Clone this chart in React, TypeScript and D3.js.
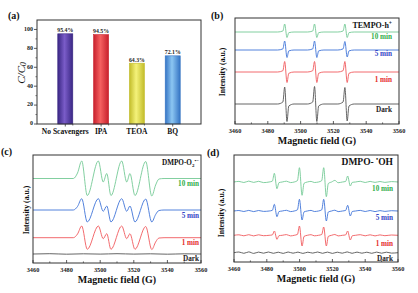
import React from 'react';
import * as d3 from 'd3';

type Pt = [number, number];

const FONT = "'Liberation Serif', 'Times New Roman', serif";

// ---------- panel (a) data ----------
const scavengers = ['No Scavengers', 'IPA', 'TEOA', 'BQ'];
const ratios = [95.4, 94.5, 64.3, 72.1];
const ratioLabels = ['95.4%', '94.5%', '64.3%', '72.1%'];
const ratioTicks = [0, 20, 40, 60, 80, 100];

// ---------- shared field axis ----------
const fieldTicks = [3460, 3480, 3500, 3520, 3540, 3560];
const fieldMinor = [3470, 3490, 3510, 3530, 3550];

// ---------- panel (b) TEMPO-h+ ----------
const bDark: Pt[] = [[3460,20],[3486,20],[3489.2,22],[3490.3,37],[3491.7,2.5],[3492.8,18],[3496,20],[3504.2,20],[3507.4,22],[3508.5,37.5],[3509.9,2.5],[3511,18],[3514.2,20],[3522.7,20],[3525.9,22],[3527,36.5],[3528.4,3],[3529.5,18],[3532.7,20],[3560,20]];
const bRed: Pt[] = [[3460,52],[3486,52],[3489.2,53.3],[3490.3,62.5],[3491.7,41.5],[3492.8,50.7],[3496,52],[3504.2,52],[3507.4,53.3],[3508.5,62.5],[3509.9,41.5],[3511,50.7],[3514.2,52],[3522.7,52],[3525.9,53.3],[3527,62.5],[3528.4,41.5],[3529.5,50.7],[3532.7,52],[3560,52]];
const bBlue: Pt[] = [[3460,74],[3486,74],[3489.2,75.1],[3490.3,83],[3491.7,66.5],[3492.8,73.1],[3496,74],[3504.2,74],[3507.4,75.1],[3508.5,83],[3509.9,66.5],[3511,73.1],[3514.2,74],[3522.7,74],[3525.9,75.1],[3527,82.5],[3528.4,67],[3529.5,73.1],[3532.7,74],[3560,74]];
const bGreen: Pt[] = [[3460,92],[3486,92],[3489.2,93],[3490.3,100],[3491.7,86.5],[3492.8,91.3],[3496,92],[3504.2,92],[3507.4,93],[3508.5,100],[3509.9,86.5],[3511,91.3],[3514.2,92],[3522.7,92],[3525.9,93],[3527,100],[3528.4,86.5],[3529.5,91.3],[3532.7,92],[3560,92]];

// ---------- panel (c) DMPO-O2•- ----------
const cGreen: Pt[] = [[3460,84.5],[3484,84.5],[3486.5,90],[3489,102],[3492.3,67.5],[3498.9,102],[3501.8,81],[3503.9,89.5],[3506.4,67.5],[3512.8,102],[3515.8,81],[3517.7,89.5],[3520.7,67.5],[3527.1,101.5],[3530.7,67],[3533,78],[3535,84],[3538,84.5],[3560,84.5]];
const cBlue: Pt[] = [[3460,53],[3484,53],[3486.5,56.5],[3489,64.3],[3492.3,41],[3498.9,64.3],[3501.8,51.7],[3503.9,57],[3506.4,41],[3512.8,64.3],[3515.8,51.7],[3517.7,57],[3520.7,41],[3527.1,64],[3530.7,41],[3533,48.5],[3535,52.5],[3538,53],[3560,53]];
const cRed: Pt[] = [[3460,25.3],[3484,25.3],[3486.5,29],[3489,37],[3492.3,13.7],[3498.9,37],[3501.8,24.3],[3503.9,29.3],[3506.4,13.7],[3512.8,37],[3515.8,24.3],[3517.7,29.3],[3520.7,13.7],[3527.1,36.5],[3530.7,13.5],[3533,21],[3535,25],[3538,25.3],[3560,25.3]];
const cDark: Pt[] = [[3460,9],[3470,9.3],[3480,8.8],[3490,9.2],[3500,8.9],[3510,9.3],[3520,8.9],[3530,9.2],[3540,8.8],[3550,9.2],[3560,9]];

// ---------- panel (d) DMPO-•OH ----------
const dGreen: Pt[] = [[3460,80],[3463,80.6],[3466,79.5],[3469,80.9],[3472,79.6],[3475,80.7],[3478,79.4],[3481.4,80],[3483.4,80.9],[3484.6,88.7],[3486.2,73.3],[3487.4,79.3],[3489.4,80],[3492,80.8],[3494.5,79.4],[3496.7,80],[3498.7,81.4],[3499.9,94.3],[3501.5,66.7],[3502.7,78.7],[3504.7,80],[3507,80.6],[3509,79.5],[3511.5,80],[3513.5,81.4],[3514.7,94.3],[3516.3,65.3],[3517.5,78.5],[3519.5,80],[3521.5,81.6],[3523.5,79.3],[3526.1,80],[3528.1,80.6],[3529.3,86],[3530.9,76],[3532.1,79.6],[3534.1,80],[3537,80.7],[3540,79.5],[3543,80.6],[3546,79.6],[3549,80.5],[3552,79.6],[3556,80.4],[3560,80]];
const dBlue: Pt[] = [[3460,51],[3463,51.5],[3466,50.5],[3469,51.6],[3472,50.4],[3475,51.5],[3478,50.6],[3481.4,51],[3483.4,51.7],[3484.6,57.7],[3486.2,45.3],[3487.4,50.4],[3489.4,51],[3492,51.7],[3494.5,50.4],[3496.7,51],[3498.7,52.2],[3499.9,62.7],[3501.5,42],[3502.7,50.1],[3504.7,51],[3507,51.6],[3509,50.5],[3511.5,51],[3513.5,52.2],[3514.7,62.7],[3516.3,41],[3517.5,50],[3519.5,51],[3521.5,51.8],[3523.5,50.4],[3526.1,51],[3528.1,51.6],[3529.3,56.7],[3530.9,46],[3532.1,50.5],[3534.1,51],[3537,51.6],[3540,50.5],[3543,51.5],[3546,50.4],[3549,51.4],[3552,50.6],[3556,51.3],[3560,51]];
const dRed: Pt[] = [[3460,26.7],[3463,27.2],[3466,26.2],[3469,27.3],[3472,26.1],[3475,27.2],[3478,26.3],[3481.4,26.7],[3483.4,27.1],[3484.6,31],[3486.2,22.7],[3487.4,26.3],[3489.4,26.7],[3492,27.4],[3494.5,26.1],[3496.7,26.7],[3498.7,27.6],[3499.9,36],[3501.5,16],[3502.7,25.6],[3504.7,26.7],[3507,27.3],[3509,26.2],[3511.5,26.7],[3513.5,27.5],[3514.7,35],[3516.3,16],[3517.5,25.6],[3519.5,26.7],[3521.5,27.5],[3523.5,26.1],[3526.1,26.7],[3528.1,27.1],[3529.3,31],[3530.9,22],[3532.1,26.2],[3534.1,26.7],[3537,27.3],[3540,26.2],[3543,27.2],[3546,26.1],[3549,27.1],[3552,26.3],[3556,27],[3560,26.7]];
const dDark: Pt[] = [[3460,9.3],[3463,10],[3466,8.7],[3469,10.1],[3472,8.6],[3475,9.9],[3478,8.8],[3481,10],[3484,8.7],[3487,9.8],[3490,8.6],[3493,10],[3496,8.8],[3499,9.9],[3502,8.6],[3505,9.8],[3508,8.9],[3511,10],[3514,8.7],[3517,9.9],[3520,8.6],[3523,9.8],[3526,8.8],[3529,10.1],[3532,8.7],[3535,9.9],[3538,8.8],[3541,9.8],[3544,8.7],[3547,9.9],[3550,8.8],[3553,9.8],[3556,8.9],[3560,9.3]];

const timeLabels = ['10 min', '5 min', '1 min', 'Dark'];

// styles
const traceColors = ['#74c995', '#3f74d8', '#f05a5e', '#555555'];
const labelColors = ['#2fae48', '#3346c6', '#e42a2a', '#222222'];
const barColors: [string, string][] = [
  ['#3a2784', '#7a5cc8'],
  ['#c8202c', '#f56060'],
  ['#c2bc2a', '#f4f27a'],
  ['#3574c4', '#8cc6f2'],
];

const AXIS = '#333';

type SpecProps = {
  left: number; right: number; top: number; bottom: number; ymax: number;
  traces: Pt[][];
  labelYs: number[];
  labelRight: number;
  tag: string; tagX: number; tagY: number;
  ylabX: number; ylabY: number;
  title: React.ReactNode;
};

function SpecPanel(p: SpecProps) {
  const x = d3.scaleLinear().domain([3460, 3560]).range([p.left, p.right]);
  const y = d3.scaleLinear().domain([0, p.ymax]).range([p.bottom, p.top]);
  const line = d3.line<Pt>().x(d => x(d[0])).y(d => y(d[1])).curve(d3.curveMonotoneX);
  const cx = (p.left + p.right) / 2;
  return (
    <g>
      {p.traces.map((t, i) => (
        <path key={i} d={line(t) || ''} fill="none" stroke={traceColors[i]} strokeWidth={0.9} />
      ))}
      <rect x={p.left} y={p.top} width={p.right - p.left} height={p.bottom - p.top} fill="none" stroke={AXIS} strokeWidth={1} />
      {fieldTicks.map(v => (
        <g key={v}>
          <line x1={x(v)} x2={x(v)} y1={p.bottom} y2={p.bottom - 3} stroke={AXIS} strokeWidth={0.8} />
          <text x={x(v)} y={p.bottom + 9} textAnchor="middle" fontSize={6.3} fontWeight="bold" fill="#222">{v}</text>
        </g>
      ))}
      {fieldMinor.map(v => (
        <line key={v} x1={x(v)} x2={x(v)} y1={p.bottom} y2={p.bottom - 1.6} stroke={AXIS} strokeWidth={0.7} />
      ))}
      <text x={cx} y={p.bottom + 20} textAnchor="middle" fontSize={10} fontWeight="bold" fill="#111">Magnetic field (G)</text>
      <text transform={`translate(${p.ylabX},${p.ylabY}) rotate(-90)`} textAnchor="middle" dominantBaseline="middle" fontSize={7.8} fontWeight="bold" fill="#111">Intensity (a.u.)</text>
      <text x={p.tagX} y={p.tagY} fontSize={10} fontWeight="bold" fill="#111">{p.tag}</text>
      {timeLabels.map((l, i) => (
        <text key={l} x={p.labelRight} y={p.labelYs[i]} textAnchor="end" fontSize={7.2} fontWeight="bold" fill={labelColors[i]}>{l}</text>
      ))}
      {p.title}
    </g>
  );
}

function BarPanel() {
  const left = 37, right = 201, top = 20, bottom = 124;
  const x = d3.scaleBand<string>().domain(scavengers).range([left, right]).padding(0.58);
  const y = d3.scaleLinear().domain([0, 110]).range([bottom, top]);
  const step = x.step();
  return (
    <g>
      <defs>
        {barColors.map((c, i) => (
          <linearGradient key={i} id={`bg${i}`} x1="0" x2="1" y1="0" y2="0">
            <stop offset="0" stopColor={c[0]} />
            <stop offset="0.45" stopColor={c[1]} />
            <stop offset="1" stopColor={c[0]} />
          </linearGradient>
        ))}
      </defs>
      {scavengers.map((s, i) => (
        <g key={s}>
          <rect x={x(s)} y={y(ratios[i])} width={x.bandwidth()} height={bottom - y(ratios[i])} fill={`url(#bg${i})`} stroke={barColors[i][0]} strokeWidth={0.6} />
          <text x={(x(s) || 0) + x.bandwidth() / 2} y={y(ratios[i]) - 1.5} textAnchor="middle" fontSize={5.8} fontWeight="bold" fill="#222">{ratioLabels[i]}</text>
          <text x={(x(s) || 0) + x.bandwidth() / 2} y={bottom + 9.5} textAnchor="middle" fontSize={7.5} fontWeight="bold" fill="#111">{s}</text>
          <line x1={(x(s) || 0) + x.bandwidth() / 2} x2={(x(s) || 0) + x.bandwidth() / 2} y1={bottom} y2={bottom + 2.5} stroke={AXIS} strokeWidth={0.8} />
        </g>
      ))}
      {scavengers.slice(1).map((s, i) => (
        <line key={s} x1={left + step * (i + 1)} x2={left + step * (i + 1)} y1={bottom} y2={bottom + 1.5} stroke={AXIS} strokeWidth={0.7} />
      ))}
      <rect x={left} y={top} width={right - left} height={bottom - top} fill="none" stroke={AXIS} strokeWidth={1} />
      {ratioTicks.map(v => (
        <g key={v}>
          <line x1={left - 3} x2={left} y1={y(v)} y2={y(v)} stroke={AXIS} strokeWidth={0.8} />
          <text x={left - 4} y={y(v)} textAnchor="end" dominantBaseline="middle" fontSize={6} fontWeight="bold" fill="#222">{v}</text>
        </g>
      ))}
      {ratioTicks.slice(0, -1).map(v => (
        <line key={v} x1={left - 1.6} x2={left} y1={y(v + 10)} y2={y(v + 10)} stroke={AXIS} strokeWidth={0.6} />
      ))}
      <text transform="translate(22,73) rotate(-90)" textAnchor="middle" dominantBaseline="middle" fontSize={11} fontStyle="italic" fill="#111">
        C/C<tspan fontSize={7.5} dy={2}>0</tspan>
      </text>
      <text x={8} y={18.5} fontSize={10} fontWeight="bold" fill="#111">(a)</text>
    </g>
  );
}

export default function App() {
  return (
    <svg width={418} height={293} style={{ position: 'absolute', left: 0, top: 0, background: '#fff' }} fontFamily={FONT}>
      <rect width={418} height={293} fill="#fff" />
      <BarPanel />
      <SpecPanel left={235} right={399} top={18} bottom={124} ymax={106}
        traces={[bGreen, bBlue, bRed, bDark]}
        labelYs={[38.5, 56, 81.5, 111.5]} labelRight={392}
        tag="(b)" tagX={211} tagY={18.5} ylabX={223} ylabY={72}
        title={<text x={392} y={28} textAnchor="end" fontSize={8} fontWeight="bold" fill="#111">TEMPO-h<tspan fontSize={5.5} dy={-3.5}>+</tspan></text>} />
      <SpecPanel left={33} right={201} top={155} bottom={263} ymax={108}
        traces={[cGreen, cBlue, cRed, cDark]}
        labelYs={[186, 217.5, 245, 261]} labelRight={199}
        tag="(c)" tagX={1} tagY={154.5} ylabX={27} ylabY={210}
        title={<text x={199} y={165} textAnchor="end" fontSize={7.2} fontWeight="bold" fill="#111">DMPO-O<tspan fontSize={5} dy={2}>2</tspan><tspan fontSize={5} dy={-5}>•−</tspan></text>} />
      <SpecPanel left={234} right={398} top={155} bottom={262} ymax={107}
        traces={[dGreen, dBlue, dRed, dDark]}
        labelYs={[191, 220, 246, 261]} labelRight={393}
        tag="(d)" tagX={207} tagY={156} ylabX={222} ylabY={213}
        title={<text x={393} y={164.5} textAnchor="end" fontSize={9.5} fontWeight="bold" fill="#111">DMPO- <tspan fontSize={6} dy={-3.5}>•</tspan><tspan dy={3.5}>OH</tspan></text>} />
    </svg>
  );
}
